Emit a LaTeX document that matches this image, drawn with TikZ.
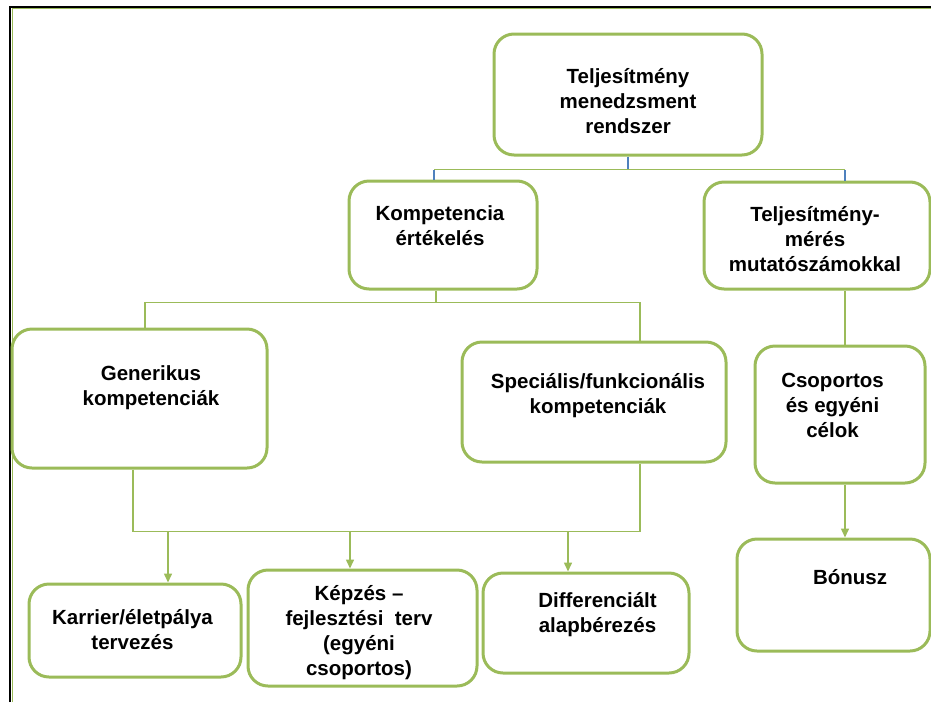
\documentclass[tikz,border=0pt]{standalone}
\usepackage{fontspec}
\setmainfont{Liberation Sans}
\usetikzlibrary{arrows.meta}
\definecolor{olive}{RGB}{155,187,89}
\definecolor{linkblue}{RGB}{79,129,189}
\begin{document}
\begin{tikzpicture}[x=1pt,y=-1pt,
  box/.style={draw=olive, line width=3pt, rounded corners=20pt, fill=white, inner sep=0pt},
  lbl/.style={align=center, font=\fontsize{20.5}{25}\selectfont\bfseries, inner sep=0pt},
  link/.style={draw=olive, line width=1.5pt},
  bluelink/.style={draw=linkblue, line width=1.5pt},
  arr/.style={link, -{Triangle[length=9pt,width=8pt]}}]
\useasboundingbox (0,0) rectangle (931,702);

% page frame
\draw[olive, line width=0.9pt] (12,702) -- (12,8.7) -- (931,8.7);
\draw[black, line width=2.2pt] (10,702) -- (10,7) -- (931,7);

% boxes
\node[box, minimum width=268pt, minimum height=121pt] (b1)  at (628,94.5)  {};
\node[box, minimum width=188pt, minimum height=108pt] (b2)  at (443,235)   {};
\node[box, minimum width=226pt, minimum height=107pt] (b3)  at (817,235.5) {};
\node[box, minimum width=255pt, minimum height=139pt] (b4)  at (139.5,398.5) {};
\node[box, minimum width=264pt, minimum height=120pt] (b5)  at (594,402)   {};
\node[box, minimum width=170pt, minimum height=137pt] (b6)  at (840,414.5) {};
\node[box, minimum width=193pt, minimum height=112pt] (b7)  at (833.5,595) {};
\node[box, minimum width=212pt, minimum height=93pt]  (b8)  at (135,630.5) {};
\node[box, minimum width=229pt, minimum height=116pt] (b9)  at (362.5,628) {};
\node[box, minimum width=206pt, minimum height=100pt] (b10) at (586,623)   {};

% labels
\node[lbl] (t1)  at (628,101)   {Teljesítmény\\menedzsment\\rendszer};
\node[lbl] (t2)  at (440,225.5) {Kompetencia\\értékelés};
\node[lbl] (t3)  at (815,239)   {Teljesítmény-\\mérés\\mutatószámokkal};
\node[lbl] (t4)  at (151,387.5) {Generikus\\kompetenciák};
\node[lbl] (t5)  at (598,395.5) {Speciális/funkcionális\\kompetenciák};
\node[lbl] (t6)  at (832.5,405) {Csoportos\\és egyéni\\célok};
\node[lbl] (t7)  at (850,577)   {Bónusz};
\node[lbl] (t8)  at (132.5,630) {Karrier/életpálya\\tervezés};
\node[lbl] (t9)  at (359,632.5) {Képzés –\\fejlesztési\ \ terv\\(egyéni\\csoportos)};
\node[lbl] (t10) at (597.5,615) {Differenciált\\alapbérezés};

% anchor points of the connectors
\path (b1.south) coordinate (s1);
\path (s1) ++(0,13) coordinate (h1);
\path (b2.north) ++(-9,0) coordinate (n2);
\path (b3.north) ++(28,0) coordinate (n3);
\path (b2.south) ++(-7,0) coordinate (s2);
\path (s2) ++(0,12) coordinate (h2);
\path (b4.north) ++(5.5,0) coordinate (n4);
\path (b5.north) ++(46,0) coordinate (n5);
\path (b3.south -| n3) coordinate (s3);
\path (b6.north -| n3) coordinate (n6);
\path (b6.south -| n3) coordinate (s6);
\path (b7.north -| n3) coordinate (n7);
\path (b4.south) ++(-6.5,0) coordinate (s4);
\path (b5.south -| n5) coordinate (s5);
\path (s4) ++(0,62) coordinate (h4);
\path (b8.north) ++(33,0) coordinate (n8);
\path (b9.north) ++(-12.5,0) coordinate (n9);
\path (b10.north) ++(-18,0) coordinate (n10);

% top level split
\draw[bluelink] (s1) -- (h1);
\draw[link] (h1 -| n2) -- (h1 -| n3);
\draw[bluelink] (h1 -| n2) -- (n2);
\draw[bluelink] (h1 -| n3) -- (n3);

% competence branch
\draw[link] (s2) -- (h2);
\draw[link] (n4) |- (h2) -| (n5);
\draw[link] (s4) |- (h4 -| s5) -- (s5);
\draw[arr] (h4 -| n8) -- (n8);
\draw[arr] (h4 -| n9) -- (n9);
\draw[arr] (h4 -| n10) -- (n10);

% performance measurement branch
\draw[link] (s3) -- (n6);
\draw[arr] (s6) -- (n7);
\end{tikzpicture}
\end{document}
